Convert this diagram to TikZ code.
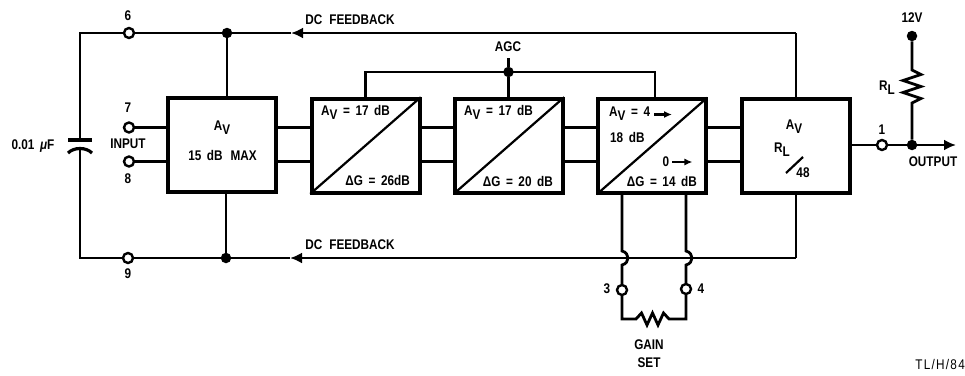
\documentclass[tikz,border=0pt]{standalone}
\usepackage{fontspec}
\setmainfont[FakeStretch=0.84,WordSpace=1.7]{Liberation Sans}
\newfontfamily\tlfont[FakeStretch=0.84,LetterSpace=9]{Liberation Sans}
\usetikzlibrary{arrows.meta}
\newcommand{\AV}{A\raisebox{-4pt}{V}}
\newcommand{\RL}{R\raisebox{-4pt}{L}}
\tikzset{
  wire/.style={line width=2.8pt,line join=miter},
  block/.style={draw,line width=4pt,minimum width=108pt,minimum height=94pt,inner sep=0pt},
  pin/.style={circle,draw,line width=2.4pt,fill=white,minimum size=10pt,inner sep=0pt},
  dot/.style={circle,fill=black,minimum size=10.5pt,inner sep=0pt},
  txt/.style={inner sep=0pt,font=\bfseries\fontsize{14}{16}\selectfont},
  arrowed/.style={wire,-{Latex[length=12pt,width=11pt]}},
  small/.style={line width=2.2pt,-{Latex[length=8pt,width=7pt]}}
}
\begin{document}
\begin{tikzpicture}[x=1pt,y=-1pt]
\useasboundingbox (0,0) rectangle (965,375);
% blocks
\node[block] (b1) at (222,145) {};
\node[block] (b2) at (365.5,145.5) {};
\node[block] (b3) at (509,145.5) {};
\node[block] (b4) at (652,146) {};
\node[block] (b5) at (796,146) {};
\draw[line width=2.2pt,shorten <=1pt,shorten >=1pt] (b2.south west) -- (b2.north east);
\draw[line width=2.2pt,shorten <=1pt,shorten >=1pt] (b3.south west) -- (b3.north east);
\draw[line width=2.2pt,shorten <=1pt,shorten >=1pt] (b4.south west) -- (b4.north east);
% reference rows
\coordinate (rowa) at (0,127.5);
\coordinate (rowb) at (0,161.5);
\coordinate (rowo) at (0,145);
% pins and dots
\node[pin] (p6) at (129,33) {};
\node[pin] (p7) at (129,127.5) {};
\node[pin] (p8) at (129,161.5) {};
\node[pin] (p9) at (128,258) {};
\node[pin] (p1) at (882,145) {};
\node[pin] (p3) at (622,290) {};
\node[pin] (p4) at (686,289) {};
\node[dot] (j6) at (227,33) {};
\node[dot] (j9) at (226,258) {};
\node[dot] (jagc) at (508.5,72) {};
\node[dot] (jout) at (912,145) {};
\node[dot] (j12) at (912,36) {};
% corners and free ends
\coordinate (tl) at (80,33);
\coordinate (bl) at (80,258);
\coordinate (tr) at (796,33);
\coordinate (br) at (796,258);
\coordinate (atop) at (291,33);
\coordinate (abot) at (290,258);
\coordinate (agcl) at (365.5,72);
\coordinate (agcr) at (655,72);
\coordinate (agct) at (508.5,58);
\coordinate (capt) at (80,140);
\coordinate (capb) at (80,148);
\coordinate (outa) at (956,145);
\coordinate (rt) at (912,70);
\coordinate (rb) at (912,103);
\coordinate (h3a) at (622,251);
\coordinate (h3b) at (622,265);
\coordinate (h4a) at (686,251);
\coordinate (h4b) at (686,265);
\coordinate (g3) at (622,319);
\coordinate (g4) at (686,319);
\coordinate (gl) at (636,319);
\coordinate (gr) at (669,319);
% feedback
\draw[wire] (p6) -- (tl) -- (capt);
\draw[wire] (capb) -- (bl) -- (p9);
\draw[wire] (p6) -- (j6);
\draw[arrowed] (tr) -- (atop);
\draw[wire] (atop) -- (j6);
\draw[wire] (b5.north -| tr) -- (tr);
\draw[arrowed] (br) -- (abot);
\draw[wire] (abot) -- (j9) -- (p9);
\draw[wire] (b5.south -| br) -- (br);
\draw[wire] (j6) -- (j6 |- b1.north);
\draw[wire] (j9) -- (j9 |- b1.south);
% capacitor
\draw[wire,line width=3.2pt] (68,140) -- (92,140);
\draw[wire,line width=3.2pt] (68,153) .. controls (74,147) and (86,147) .. (92,153);
% inputs
\draw[wire] (p7) -- (p7 -| b1.west);
\draw[wire] (p8) -- (p8 -| b1.west);
% inter-stage
\draw[wire] (b1.east |- rowa) -- (b2.west |- rowa);
\draw[wire] (b1.east |- rowb) -- (b2.west |- rowb);
\draw[wire] (b2.east |- rowa) -- (b3.west |- rowa);
\draw[wire] (b2.east |- rowb) -- (b3.west |- rowb);
\draw[wire] (b3.east |- rowa) -- (b4.west |- rowa);
\draw[wire] (b3.east |- rowb) -- (b4.west |- rowb);
\draw[wire] (b4.east |- rowa) -- (b5.west |- rowa);
\draw[wire] (b4.east |- rowb) -- (b5.west |- rowb);
% AGC
\draw[wire] (agcl |- b2.north) -- (agcl) -- (agcr) -- (agcr |- b4.north);
\draw[wire] (agct) -- (jagc) -- (jagc |- b3.north);
% output
\draw[wire] (b5.east |- rowo) -- (p1) -- (jout);
\draw[arrowed] (jout) -- (outa);
\draw[wire,miter limit=4] (j12) -- (rt) -- ++(9,4.5) -- ++(-18,6) -- ++(18,6) -- ++(-18,6) -- ++(18,6) -- (rb) -- (jout);
% gain set
\draw[wire] (h3a |- b4.south) -- (h3a) .. controls (630,253) and (630,263) .. (h3b) -- (p3);
\draw[wire] (h4a |- b4.south) -- (h4a) .. controls (694,253) and (694,263) .. (h4b) -- (p4);
\draw[wire] (p3) -- (g3) -- (gl) -- ++(5.5,-6) -- ++(5.5,12) -- ++(5.5,-12) -- ++(5.5,12) -- ++(5.5,-12) -- (gr) -- (g4) -- (p4);
% texts
\node[txt] (t6) at (128,16) {6};
\node[txt] (t7) at (128,108) {7};
\node[txt] (t8) at (128,179) {8};
\node[txt] (t9) at (128,274) {9};
\node[txt] (tin) at (128,144) {INPUT};
\node[txt] (tcap) at (33,146) {0.01 \textit{μ}F};
\node[txt] (tfb1) at (350,20) {DC\hspace{7pt}FEEDBACK};
\node[txt] (tfb2) at (350,245) {DC\hspace{7pt}FEEDBACK};
\node[txt] (tagc) at (508,47) {AGC};
\node[txt] (t12) at (912,18) {12V};
\node[txt] (trl) at (887,88) {\RL};
\node[txt] (tout) at (933,162) {OUTPUT};
\node[txt] (t1) at (882,130) {1};
\node[txt] (t3) at (607,289) {3};
\node[txt] (t4) at (701,289) {4};
\node[txt] (tg1) at (649,345) {GAIN};
\node[txt] (tg2) at (649,363) {SET};
\node[txt,anchor=east,font=\tlfont\fontsize{14}{16}\selectfont] (ttl) at (965,364) {TL/H/84};
\node[txt] (a1) at (222,128) {\AV};
\node[txt] (a1b) at (222.5,155) {15 dB\hspace{8pt}MAX};
\node[txt,anchor=west] (a2) at (321,112) {\AV{} = 17 dB};
\node[txt,anchor=east] (g2) at (410,180) {ΔG = 26dB};
\node[txt,anchor=west] (a3) at (464,112) {\AV{} = 17 dB};
\node[txt,anchor=east] (g3t) at (553,181) {ΔG = 20 dB};
\node[txt,anchor=west] (a4) at (609,114) {\AV{} = 4};
\node[txt,anchor=west] (d4) at (610,137) {18 dB};
\node[txt] (z4) at (666,162) {0};
\node[txt,anchor=east] (g4t) at (697,181) {ΔG = 14 dB};
\draw[small] (654,114.5) -- (672,114.5);
\draw[small] (z4.east)+(3,0) -- +(23,0);
\node[txt] (a5) at (794,127) {\AV};
\node[txt] (r5) at (782,150) {\RL};
\node[txt] (n48) at (803,173) {48};
\draw[line width=2.2pt] (786,173) -- (803,157);
\end{tikzpicture}
\end{document}
